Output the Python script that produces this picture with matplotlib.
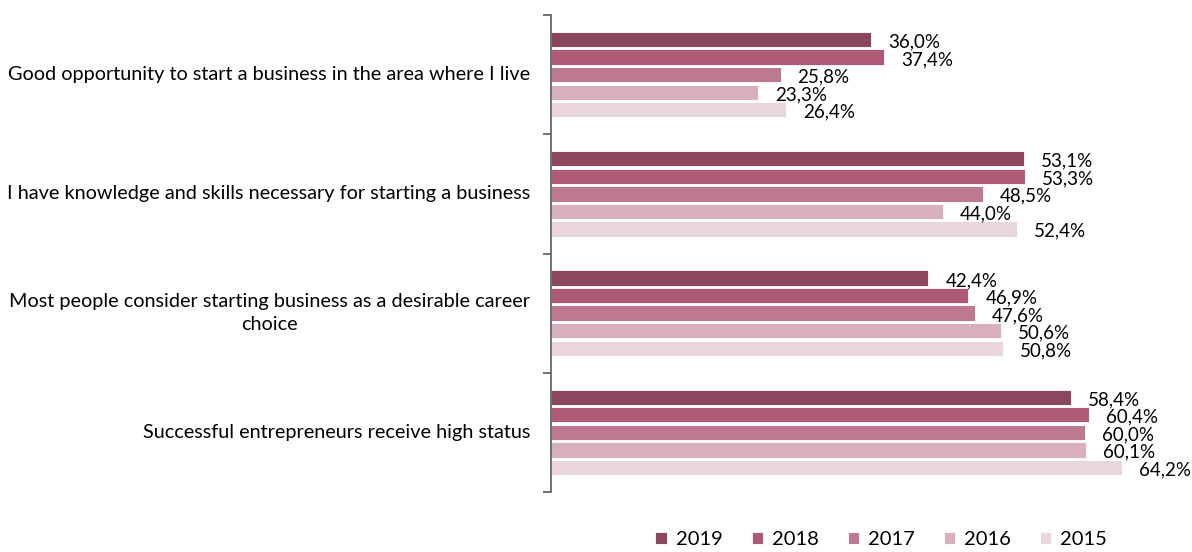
import numpy as np
import matplotlib.pyplot as plt

plt.rcParams['font.family'] = ['Lato', 'DejaVu Sans']

categories = [
    'Good opportunity to start a business in the area where I live',
    'I have knowledge and skills necessary for starting a business',
    'Most people consider starting business as a desirable career\nchoice',
    'Successful entrepreneurs receive high status',
]
years = ['2019', '2018', '2017', '2016', '2015']
values = {
    '2019': [36.0, 53.1, 42.4, 58.4],
    '2018': [37.4, 53.3, 46.9, 60.4],
    '2017': [25.8, 48.5, 47.6, 60.0],
    '2016': [23.3, 44.0, 50.6, 60.1],
    '2015': [26.4, 52.4, 50.8, 64.2],
}
colors = ['#8B475D', '#AD5B74', '#BD7A8E', '#D8AFBC', '#E9D5DC']

fig = plt.figure(figsize=(11.92, 5.52), dpi=100)
ax = fig.add_axes([551 / 1192, 1 - 492 / 552, 0.985 - 551 / 1192, (492 - 15) / 552])

n = len(categories)
step = 0.147
h = 0.128
for i, (yr, c) in enumerate(zip(years, colors)):
    ypos = np.arange(n) + (i - 2) * step
    ax.barh(ypos, values[yr], height=h, color=c, label=yr, edgecolor='white', linewidth=0.6)
    for y, v in zip(ypos, values[yr]):
        ax.text(v + 1.9, y + 0.02, f'{v:.1f}%'.replace('.', ','), va='center', ha='left',
                fontsize=13.5, color='black')

ax.set_xlim(0, 70)
ax.set_ylim(n - 0.5, -0.5)
ax.set_yticks(np.arange(-0.5, n, 1.0))
ax.set_yticklabels([])
ax.tick_params(axis='y', length=6, color='#595959', width=1.2)
for k, lab in enumerate(categories):
    ax.text(-0.033, k, lab, transform=ax.get_yaxis_transform(), ha='right', va='center',
            multialignment='center', fontsize=14.3, color='black', linespacing=1.45)
ax.set_xticks([])
for s in ['top', 'right', 'bottom']:
    ax.spines[s].set_visible(False)
ax.spines['left'].set_color('#595959')
ax.spines['left'].set_linewidth(1.2)

ax.legend(loc='center', bbox_to_anchor=(0.53, -0.1), ncol=5, frameon=False, fontsize=14.5,
          handlelength=0.55, handleheight=0.55, handletextpad=0.45, columnspacing=1.45)

fig.savefig('out.png', dpi=100)
